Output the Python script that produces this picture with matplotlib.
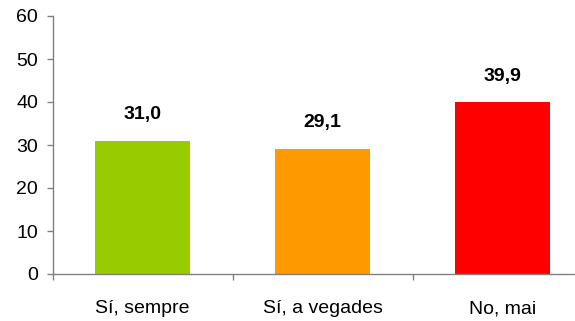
import matplotlib
matplotlib.use("Agg")
import matplotlib.pyplot as plt
import numpy as np

categories = ["Sí, sempre", "Sí, a vegades", "No, mai"]
values = [31.0, 29.1, 39.9]
colors = ["#99CC00", "#FF9900", "#FF0000"]
yticks = [0, 10, 20, 30, 40, 50, 60]

plt.rcParams['font.family'] = ['Liberation Sans', 'DejaVu Sans']

fig = plt.figure(figsize=(5.75, 3.21), dpi=100)
ax = fig.add_axes([52.5/575, 47/321, 540/575, 258/321])

x = np.arange(len(categories))
ax.bar(x, values, width=0.528, color=colors, zorder=2)

for xi, v in zip(x, values):
    ax.annotate(f"{v:.1f}".replace(".", ","), (xi, v), xytext=(0, 19),
                textcoords="offset points", ha="center", va="center",
                fontsize=14, fontweight="bold")

ax.set_xlim(-0.5, 2.5)
ax.set_ylim(0, 60)
ax.set_yticks(yticks)
ax.set_yticklabels([str(t) for t in yticks], fontsize=14)
ax.set_xticks(x)
ax.set_xticklabels(categories, fontsize=14)
ax.set_xticks([-0.5, 0.5, 1.5, 2.5], minor=True)

for s in ["top", "right"]:
    ax.spines[s].set_visible(False)
for s in ["left", "bottom"]:
    ax.spines[s].set_color("#808080")
    ax.spines[s].set_linewidth(1.0)
ax.spines["bottom"].set_zorder(3)

ax.tick_params(axis="y", direction="out", length=4.3, width=1, color="#808080", pad=6)
ax.tick_params(axis="x", which="major", length=0, pad=19)
ax.tick_params(axis="x", which="minor", direction="out", length=4.3, width=1, color="#808080")

fig.savefig("out.png", dpi=100)
